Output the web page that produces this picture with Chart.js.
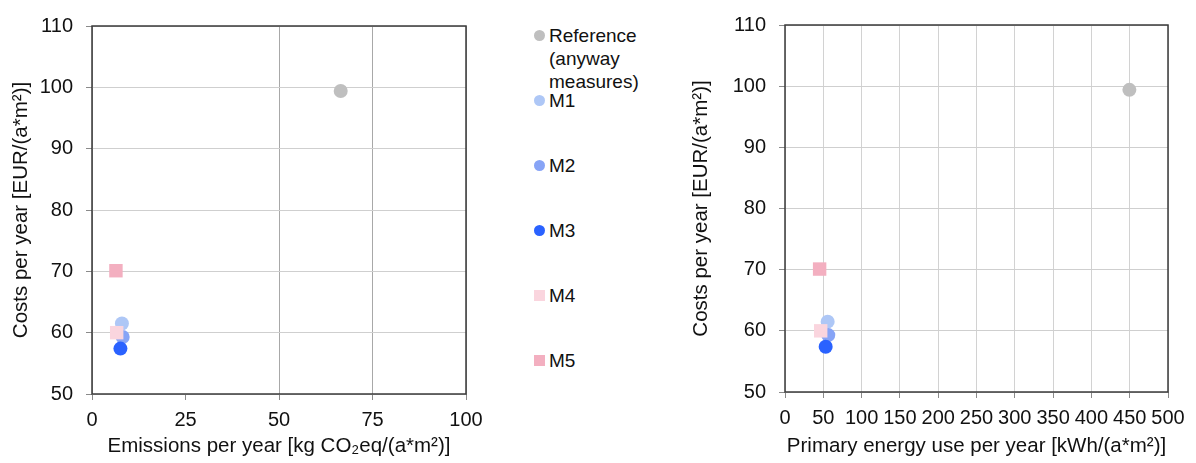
<!DOCTYPE html>
<html>
<head>
<meta charset="utf-8">
<script src="https://cdn.jsdelivr.net/npm/chart.js@4.4.1/dist/chart.umd.min.js"></script>
<style>
  html, body { margin: 0; padding: 0; background: #fff; width: 1196px; height: 463px; overflow: hidden; }
  body { position: relative; font-family: "Liberation Sans", Arial, sans-serif; }
  #left { position: absolute; left: 0; top: 0; }
  #right { position: absolute; left: 680px; top: 0; }
  #legend { position: absolute; left: 531px; top: 24px; width: 150px; }
  .item { position: relative; height: 65px; }
  .mk { position: absolute; left: 3px; top: 6px; width: 11px; height: 11px; }
  .mk.circle { border-radius: 50%; }
  .txt { position: absolute; left: 18px; top: 0; width: 110px; font-size: 19px; line-height: 23px; color: #111; }
</style>
</head>
<body>
<canvas id="left" width="500" height="463"></canvas>
<div id="legend"></div>
<canvas id="right" width="516" height="463"></canvas>
<script>
// ---- data ----
const seriesNames = ['Reference (anyway measures)', 'M1', 'M2', 'M3', 'M4', 'M5'];
const costs = [99.4, 61.5, 59.3, 57.4, 60.0, 70.1];
const emissions = [66.5, 8.0, 8.2, 7.6, 6.6, 6.4];
const primaryEnergy = [449.6, 55.7, 56.5, 53.1, 46.6, 45.2];
const costTicks = [50, 60, 70, 80, 90, 100, 110];
const emissionTicks = [0, 25, 50, 75, 100];
const energyTicks = [0, 50, 100, 150, 200, 250, 300, 350, 400, 450, 500];
const seriesColors = ['#bfbfbf', '#aec7f6', '#87a4f6', '#2a62ff', '#fad5de', '#f3afc0'];
const seriesShapes = ['circle', 'circle', 'circle', 'circle', 'rect', 'rect'];

const FONT = '"Liberation Sans", Arial, sans-serif';

const framePlugin = {
  id: 'frame',
  afterDraw(chart) {
    const a = chart.chartArea, ctx = chart.ctx;
    ctx.save();
    ctx.strokeStyle = '#3a3a3a';
    ctx.lineWidth = 1.5;
    ctx.strokeRect(a.left, a.top, a.right - a.left, a.bottom - a.top);
    ctx.restore();
  }
};

function buildDatasets(xs) {
  return seriesNames.map((name, i) => ({
    label: name,
    data: [{ x: xs[i], y: costs[i] }],
    pointStyle: seriesShapes[i],
    pointRadius: seriesShapes[i] === 'rect' ? 9.5 : 7,
    pointHoverRadius: seriesShapes[i] === 'rect' ? 9.5 : 7,
    backgroundColor: seriesColors[i],
    borderColor: seriesColors[i],
    borderWidth: 0,
    order: seriesNames.length - i
  }));
}

function makeChart(id, xs, xTicks, xTitle, yWidth, xHeight, pad, gridColorFn) {
  return new Chart(document.getElementById(id), {
    type: 'scatter',
    data: { datasets: buildDatasets(xs) },
    options: {
      responsive: false,
      animation: false,
      devicePixelRatio: 1,
      layout: { padding: pad },
      plugins: { legend: { display: false }, tooltip: { enabled: false } },
      scales: {
        x: {
          type: 'linear',
          min: xTicks[0], max: xTicks[xTicks.length - 1],
          afterBuildTicks: s => { s.ticks = xTicks.map(v => ({ value: v })); },
          afterFit: s => { s.height = xHeight; },
          border: { display: false },
          grid: { color: gridColorFn, tickColor: '#8a8a8a', tickLength: 6, lineWidth: 1 },
          ticks: { autoSkip: false, maxRotation: 0, padding: 8, color: '#111', font: { family: FONT, size: 20 } },
          title: { display: true, text: xTitle, color: '#111', font: { family: FONT, size: 20.5 }, padding: { top: 0, bottom: 4 } }
        },
        y: {
          type: 'linear',
          min: costTicks[0], max: costTicks[costTicks.length - 1],
          afterBuildTicks: s => { s.ticks = costTicks.map(v => ({ value: v })); },
          afterFit: s => { s.width = yWidth; },
          border: { display: false },
          grid: { color: '#cfcfcf', tickColor: '#8a8a8a', tickLength: 6, lineWidth: 1 },
          ticks: { padding: 13, color: '#111', font: { family: FONT, size: 20 } },
          title: { display: true, text: 'Costs per year [EUR/(a*m²)]', color: '#111', font: { family: FONT, size: 20.5 }, padding: { top: 9, bottom: 0 } }
        }
      }
    },
    plugins: [framePlugin]
  });
}

makeChart('left', emissions, emissionTicks, 'Emissions per year [kg CO₂eq/(a*m²)]', 92, 69,
  { top: 26, right: 34, left: 0, bottom: 0 },
  ctx => (ctx.tick && ctx.tick.value === 25) ? 'rgba(0,0,0,0)' : '#a8a8a8');
makeChart('right', primaryEnergy, energyTicks, 'Primary energy use per year [kWh/(a*m²)]', 105, 71,
  { top: 19, right: 28, left: 0, bottom: 0 },
  '#d2d2d2');

// ---- HTML legend built from the series arrays ----
const legend = document.getElementById('legend');
seriesNames.forEach((name, i) => {
  const item = document.createElement('div');
  item.className = 'item';
  const mk = document.createElement('span');
  mk.className = 'mk' + (seriesShapes[i] === 'circle' ? ' circle' : '');
  mk.style.background = seriesColors[i];
  const t = document.createElement('span');
  t.className = 'txt';
  t.textContent = name;
  item.appendChild(mk); item.appendChild(t);
  legend.appendChild(item);
});
</script>
</body>
</html>
